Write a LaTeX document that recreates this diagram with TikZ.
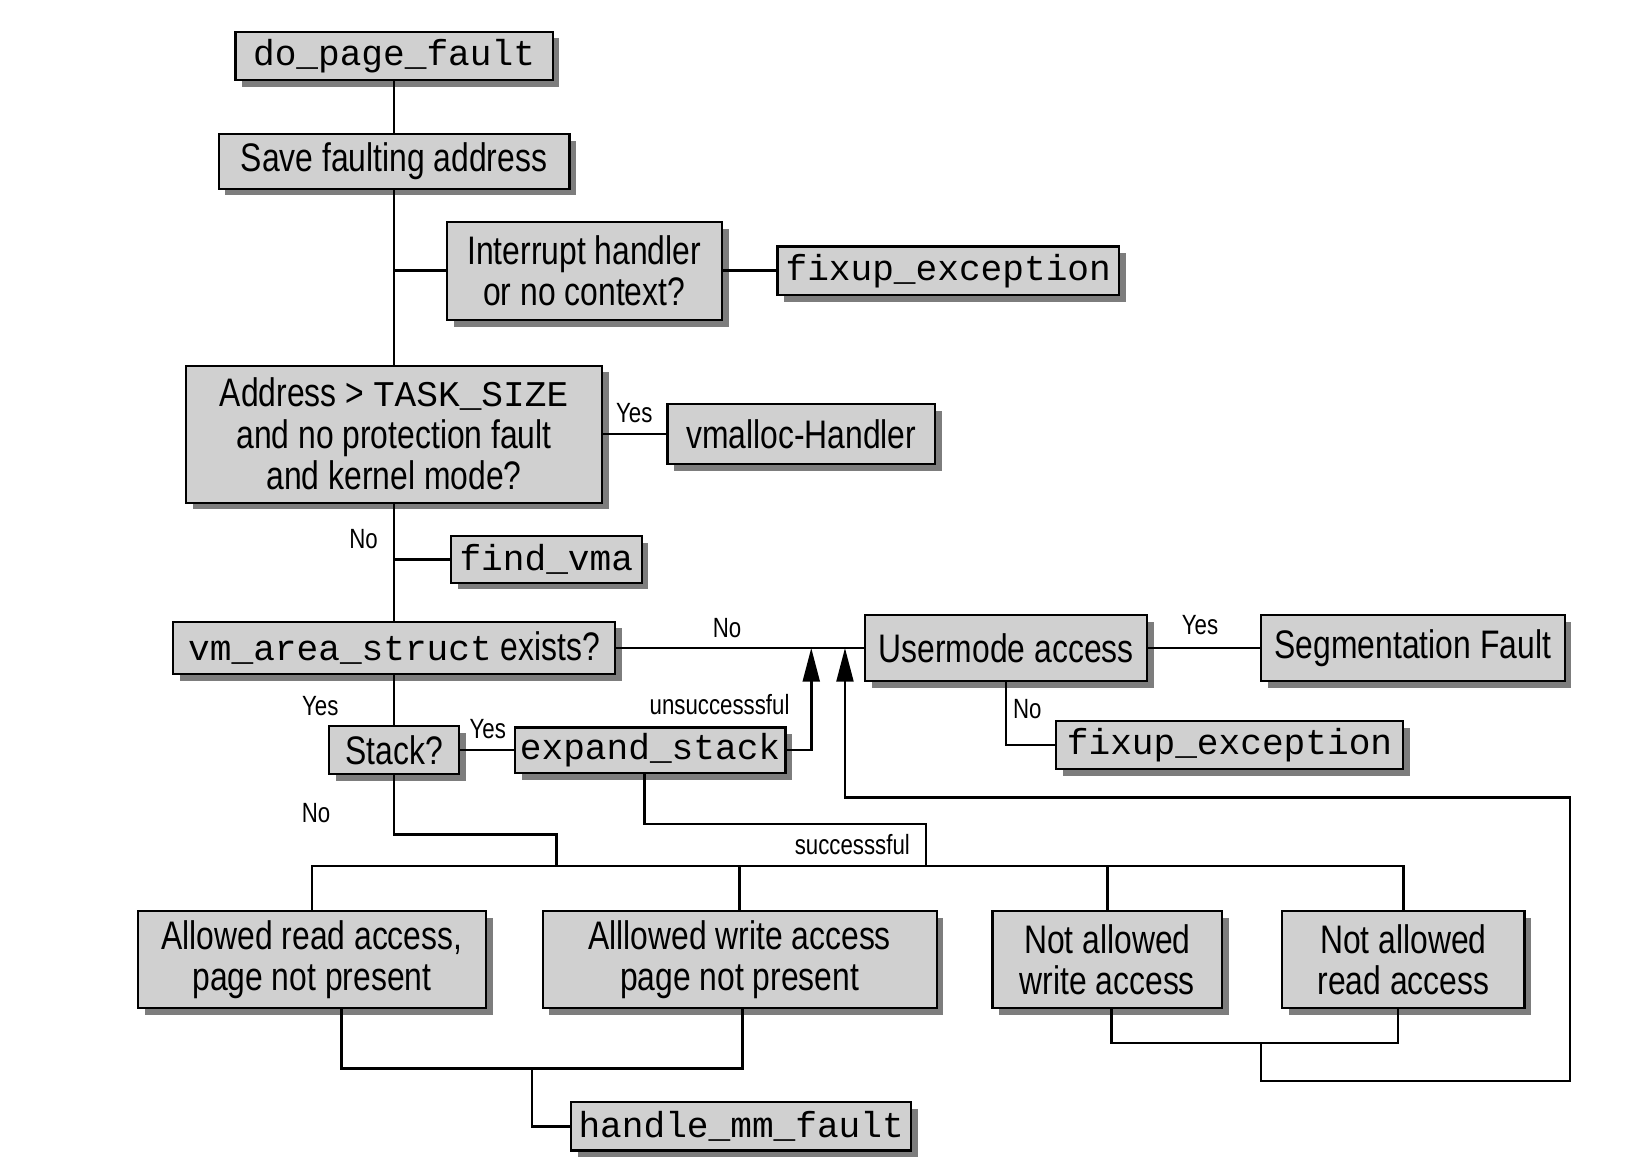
\documentclass[tikz,border=0pt]{standalone}
\usepackage{fontspec}
\setmainfont[FakeStretch=0.8]{Liberation Sans}
\setmonofont{Liberation Mono}
\usetikzlibrary{arrows.meta, positioning, shadows}
\definecolor{boxfill}{RGB}{208,208,208}
\definecolor{shadowgray}{RGB}{125,125,125}
\newcommand{\kfn}[1]{{\fontsize{34.3}{36}\selectfont\ttfamily #1}}

\begin{document}
\begin{tikzpicture}[
        x=1pt, y=-1pt,
        box/.style={rectangle, draw, line width=2pt, fill=boxfill, inner sep=0pt, align=center,
            drop shadow={shadow xshift=6.5pt, shadow yshift=-6.5pt, fill=shadowgray, opacity=1},
            font=\fontsize{37.8}{39.5}\selectfont},
        codebox/.style={box, font=\fontsize{34.3}{36}\selectfont\ttfamily},
        lbl/.style={inner sep=1pt, font=\fontsize{26.4}{28}\selectfont},
        link/.style={line width=2.5pt},
        arrowline/.style={-{Triangle[length=32pt, width=16pt]}, line width=2.5pt}
    ]
        \useasboundingbox (0,0) rectangle (1568,1109);

        % main column
        \node[codebox, minimum width=301, minimum height=46] (dpf) at (374,53) {do\_page\_fault};
        \node[box, minimum width=333, minimum height=52] (save) at (374,153) {Save faulting address};
        \node[box, minimum width=261, minimum height=93] (intr) at (554.5,257) {Interrupt handler\\or no context?};
        \node[codebox, right=51pt of intr, minimum width=324, minimum height=46] (fix1) {fixup\_exception};
        \node[box, minimum width=395, minimum height=130] (addr) at (374,412) {Address > \kfn{TASK\_SIZE}\\and no protection fault\\and kernel mode?};
        \node[box, right=60pt of addr, minimum width=254, minimum height=57] (vmal) {vmalloc-Handler};
        \node[codebox, minimum width=181, minimum height=44] (fvma) at (518.5,531) {find\_vma};
        \node[box, minimum width=419, minimum height=50] (vmas) at (374,615) {\kfn{vm\_area\_struct} exists?};
        \node[box, minimum width=268, minimum height=63] (user) at (955,615) {Usermode access};
        \node[box, right=106pt of user, minimum width=288, minimum height=63] (segf) {Segmentation Fault};
        \node[codebox, minimum width=330, minimum height=46] (fix2) at (1167,707) {fixup\_exception};
        \node[box, minimum width=123, minimum height=46] (stack) at (374,712) {Stack?};
        \node[codebox, right=51pt of stack, minimum width=257, minimum height=43] (expst) {expand\_stack};

        % access cases
        \node[box, minimum width=330, minimum height=92] (ard) at (296,911) {Allowed read access,\\page not present};
        \node[box, minimum width=374, minimum height=92] (awr) at (702,911) {Alllowed write access\\page not present};
        \node[box, minimum width=218, minimum height=92] (nwr) at (1051,911) {Not allowed\\write access};
        \node[box, minimum width=230, minimum height=92] (nrd) at (1332,911) {Not allowed\\read access};
        \node[codebox, minimum width=323, minimum height=46] (hmm) at (703.5,1069) {handle\_mm\_fault};

        \coordinate (tipA) at (770,615);
        \coordinate (tipB) at (802,615);
        \coordinate (noJoin) at (528,792);
        \coordinate (okJoin) at (879,782);
        \coordinate (bus) at (702,822);
        \coordinate (hJoin) at (505,1014);
        \coordinate (nJoin) at (1197,990);
        \coordinate (loopBR) at (1490,1026);
        \coordinate (loopTR) at (1490,757);

        \draw[link] (dpf) -- (save);
        \draw[link] (save) -- (addr);
        \draw[link] (intr.west) -- (intr.west -| save.south);
        \draw[link] (intr) -- (fix1);
        \draw[link] (addr) -- (vmal);
        \draw[link] (addr) -- (vmas);
        \draw[link] (fvma.west) -- (fvma.west -| addr.south);
        \draw[link] (vmas) -- (user);
        \draw[link] (user) -- (segf);
        \draw[link] (user.south) |- (fix2.west);
        \draw[link] (vmas) -- (stack);
        \draw[link] (stack) -- (expst);
        \draw[link] (stack.south) |- (noJoin) -- (noJoin |- bus);
        \draw[link] ([xshift=-5pt]expst.south) |- (okJoin) -- (okJoin |- bus);
        \draw[link] (ard.north) |- (bus) -| (nrd.north);
        \draw[link] (awr.north) -- (awr.north |- bus);
        \draw[link] (nwr.north) -- (nwr.north |- bus);
        \draw[link] ([xshift=28pt]ard.south) |- (hJoin) -| ([xshift=3pt]awr.south);
        \draw[link] (hJoin) |- (hmm.west);
        \draw[link] ([xshift=4pt]nwr.south) |- (nJoin) -| ([xshift=-5pt]nrd.south);
        \draw[arrowline] (expst.east) -| (tipA);
        \draw[arrowline] (nJoin) |- (loopBR) -- (loopTR) -| (tipB);

        % branch labels
        \node[lbl] (yesVmalloc) at (602,392) {Yes};
        \node[lbl] (noFind) at (345,512) {No};
        \node[lbl] (noVma) at (690,596) {No};
        \node[lbl] (unsucc) at (683,669) {unsuccesssful};
        \node[lbl] (yesSeg) at (1139,593) {Yes};
        \node[lbl] (noUser) at (975,673) {No};
        \node[lbl] (yesVma) at (304,670) {Yes};
        \node[lbl] (yesStack) at (463,692) {Yes};
        \node[lbl] (noStack) at (300,772) {No};
        \node[lbl] (succ) at (809,802) {successsful};
    \end{tikzpicture}
\end{document}
